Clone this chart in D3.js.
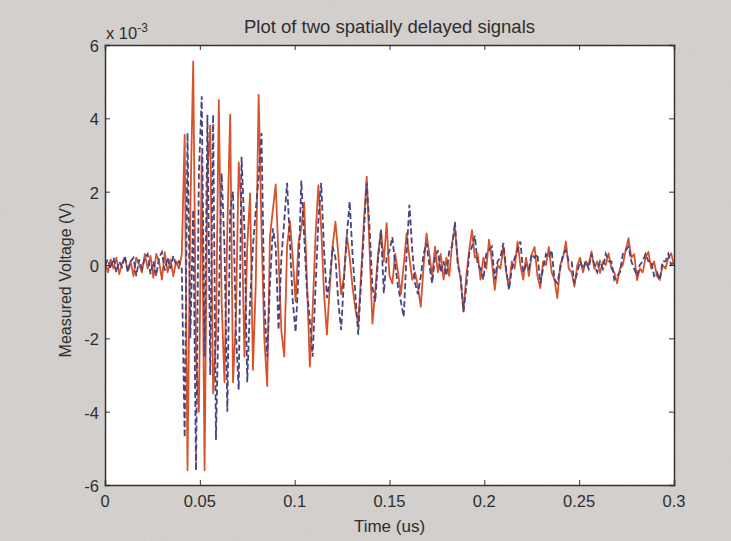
<!DOCTYPE html>
<html>
<head>
<meta charset="utf-8">
<script src="https://cdn.jsdelivr.net/npm/d3@7"></script>
<style>
  html, body { margin: 0; padding: 0; background: #d4d0cd; }
  svg { display: block; }
  text { font-family: "Liberation Sans", Arial, Helvetica, sans-serif; fill: #2e2e2e; }
</style>
</head>
<body>
<svg id="chart" width="731" height="541"></svg>
<script>
// Sampling interval of both recordings, in microseconds
const sampleStep = 0.0015;

// Measured voltage of the first receiver (×1e-3 V), solid trace
const signalA = [
  0.1, -0.2, 0.15, -0.1, 0.2, -0.25, 0.05, 0.2, -0.15, 0.1,
  -0.3, 0.2, 0.0, -0.2, 0.3, -0.1, 0.25, -0.35, 0.3, 0.1,
  -0.4, 0.35, -0.2, 0.15, -0.3, 0.1, -0.1, 0.3, 3.55, -5.6,
  1.5, 5.55, -2.5, -4.0, 3.0, -5.6, 2.5, 3.8, -3.5, -2.0,
  4.5, -1.0, -3.2, 1.0, 4.1, -3.2, -1.5, 2.8, 1.5, -2.5,
  0.5, 1.95, -2.86, -0.5, 4.64, 1.0, -2.0, -3.3, 0.8, 1.5,
  2.2, 0.2, -1.8, -2.5, 0.5, 1.2, 0.2, -1.0, 0.6, 1.0,
  1.7, -0.5, -2.77, -1.2, 0.8, 2.18, 1.0, -0.8, -1.9, -0.6,
  0.5, 1.18, 0.3, -0.8, -0.3, 0.8, 0.2, -0.6, -1.2, -1.6,
  -0.3, 1.2, 2.41, 0.4, -1.6, -0.7, 0.3, 0.95, 0.1, 1.14,
  -0.3, -0.5, 0.3, -0.2, -0.8, 0.0, 0.86, 0.2, -0.4, -0.2,
  -0.6, -1.14, 0.0, 0.86, 0.3, -0.3, 0.5, -0.2, 0.3, -0.4,
  0.2, -0.3, 0.6, 1.0, 0.1, -0.4, -1.27, -0.3, 0.4, 0.95,
  0.2, 0.3, -0.4, 0.2, -0.1, 0.69, 0.1, -0.68, 0.0, -0.1,
  0.5, -0.2, -0.6, 0.1, -0.1, 0.64, 0.0, -0.4, 0.2, -0.3,
  0.3, 0.49, -0.3, -0.63, 0.1, 0.0, 0.49, -0.2, -0.4, -0.9,
  0.0, 0.2, 0.64, -0.1, -0.2, -0.59, 0.0, 0.2, -0.2, 0.1,
  0.0, 0.37, -0.1, 0.1, -0.22, 0.1, 0.0, 0.32, -0.1, -0.2,
  -0.5, -0.1, 0.0, 0.4, 0.73, 0.2, 0.3, -0.41, -0.1, -0.2,
  0.2, 0.36, -0.1, 0.1, -0.3, -0.41, 0.0, -0.1, 0.2, 0.32,
  0.0
];

// Measured voltage of the second, spatially delayed receiver (×1e-3 V), dashed trace
const signalB = [
  0.0, 0.15, -0.1, 0.2, -0.2, 0.1, -0.05, 0.25, -0.2, 0.1,
  0.2, -0.3, 0.15, -0.1, 0.2, 0.3, -0.25, 0.1, -0.3, 0.2,
  0.35, -0.15, 0.2, -0.1, 0.25, 0.0, 0.1, -0.1, -4.7, 3.6,
  -2.0, 1.5, -5.6, 2.5, 4.6, -2.5, 4.1, -3.0, 4.1, -4.77,
  -1.0, 2.5, 0.5, -4.0, 1.5, 2.0, -1.8, -3.4, 2.95, 1.0,
  -3.2, -1.0, 0.5, 1.5, 2.4, 3.6, -1.0, -2.5, -0.5, 1.0,
  0.5, -1.77, 0.2, 1.2, 2.24, 0.6, -1.0, -1.83, -0.3, 2.3,
  0.8, -0.7, -1.5, -2.5, -0.6, 1.2, 2.24, 0.4, -0.9, -0.4,
  0.5, 0.2, -1.0, -1.77, -0.4, 0.8, 1.73, 0.3, -0.8, -1.9,
  -0.5, 0.9, 2.24, 1.0, -0.6, -1.0, 0.2, 0.95, -0.77, 0.2,
  0.4, 0.76, 0.0, -0.6, -1.0, -1.41, 0.3, 1.64, 0.4, -0.5,
  -0.8, -0.3, 0.3, 0.6, 0.0, -0.5, 0.2, 0.4, -0.2, 0.1,
  -0.3, 0.4, 0.5, 1.18, 0.0, -0.3, -1.27, -0.6, 0.3, 0.5,
  0.8, 0.0, -0.1, -0.4, 0.3, 0.4, 0.5, -0.4, 0.1, 0.2,
  0.6, -0.1, -0.68, -0.1, 0.2, 0.4, 0.64, -0.2, 0.0, -0.1,
  0.3, 0.2, 0.3, -0.5, -0.1, 0.3, 0.2, 0.4, -0.4, -0.5,
  -0.1, 0.3, 0.4, 0.1, 0.1, -0.5, -0.2, 0.1, -0.1, 0.1,
  -0.1, 0.3, 0.0, -0.2, 0.1, -0.1, 0.3, 0.1, 0.1, -0.4,
  -0.3, -0.2, 0.3, 0.4, 0.5, 0.1, -0.1, -0.3, 0.0, 0.1,
  0.3, 0.1, 0.1, -0.3, -0.2, -0.4, 0.1, 0.1, 0.3, 0.0,
  0.1
];

// Axis ticks and their labels
const xTicks = [0, 0.05, 0.1, 0.15, 0.2, 0.25, 0.3];
const xTickLabels = ["0", "0.05", "0.1", "0.15", "0.2", "0.25", "0.3"];
const yTicks = [-6, -4, -2, 0, 2, 4, 6];
const yTickLabels = ["-6", "-4", "-2", "0", "2", "4", "6"];

const titleText = "Plot of two spatially delayed signals";
const xLabelText = "Time (us)";
const yLabelText = "Measured Voltage (V)";

// ---- layout ----
const W = 731, H = 541;
const plot = { left: 105, right: 674, top: 45, bottom: 485 };
const tickLen = 5;

const svg = d3.select("#chart");
const defs = svg.append("defs");

// fine grain for the figure background
const grain = defs.append("filter").attr("id", "grain")
  .attr("x", 0).attr("y", 0).attr("width", "100%").attr("height", "100%");
grain.append("feTurbulence")
  .attr("type", "fractalNoise").attr("baseFrequency", 0.9)
  .attr("numOctaves", 2).attr("seed", 3).attr("result", "noise");
grain.append("feColorMatrix").attr("in", "noise").attr("type", "matrix")
  .attr("values", "0 0 0 0 0.5  0 0 0 0 0.5  0 0 0 0 0.5  0.6 0.6 0.6 0 -0.85");

svg.append("rect").attr("width", W).attr("height", H).attr("fill", "#d4d0cd");
svg.append("rect").attr("width", W).attr("height", H).attr("filter", "url(#grain)").attr("opacity", 0.6);

const x = d3.scaleLinear().domain([0, 0.3]).range([plot.left, plot.right]);
const y = d3.scaleLinear().domain([-6, 6]).range([plot.bottom, plot.top]);

// white axes area
svg.append("rect")
  .attr("x", plot.left).attr("y", plot.top)
  .attr("width", plot.right - plot.left).attr("height", plot.bottom - plot.top)
  .attr("fill", "#ffffff");

defs.append("clipPath").attr("id", "plotclip")
  .append("rect")
  .attr("x", plot.left).attr("y", plot.top)
  .attr("width", plot.right - plot.left).attr("height", plot.bottom - plot.top);

const line = d3.line()
  .x((d, i) => x(i * sampleStep))
  .y(d => y(d));

const traces = svg.append("g").attr("clip-path", "url(#plotclip)");

traces.append("path")
  .datum(signalA)
  .attr("d", line)
  .attr("fill", "none")
  .attr("stroke", "#d8532c")
  .attr("stroke-width", 1.8)
  .attr("stroke-linejoin", "round");

traces.append("path")
  .datum(signalB)
  .attr("d", line)
  .attr("fill", "none")
  .attr("stroke", "#46457f")
  .attr("stroke-width", 1.8)
  .attr("stroke-dasharray", "6,3");

// ---- axes with inward ticks on all four sides ----
const axisColor = "#333333";

const bottomAxis = d3.axisBottom(x).tickValues(xTicks).tickSize(-tickLen).tickFormat("");
const topAxis = d3.axisTop(x).tickValues(xTicks).tickSize(-tickLen).tickFormat("");
const leftAxis = d3.axisLeft(y).tickValues(yTicks).tickSize(-tickLen).tickFormat("");
const rightAxis = d3.axisRight(y).tickValues(yTicks).tickSize(-tickLen).tickFormat("");

function styleAxis(g) {
  g.selectAll("path.domain").attr("stroke", axisColor).attr("stroke-width", 1.5);
  g.selectAll(".tick line").attr("stroke", axisColor).attr("stroke-width", 1);
}

svg.append("g").attr("transform", `translate(0,${plot.bottom})`).call(bottomAxis).call(styleAxis);
svg.append("g").attr("transform", `translate(0,${plot.top})`).call(topAxis).call(styleAxis);
svg.append("g").attr("transform", `translate(${plot.left},0)`).call(leftAxis).call(styleAxis);
svg.append("g").attr("transform", `translate(${plot.right},0)`).call(rightAxis).call(styleAxis);

// tick labels
svg.append("g").selectAll("text")
  .data(xTicks)
  .join("text")
  .attr("x", d => x(d))
  .attr("y", 507)
  .attr("text-anchor", "middle")
  .attr("font-size", 16.5)
  .text((d, i) => xTickLabels[i]);

svg.append("g").selectAll("text")
  .data(yTicks)
  .join("text")
  .attr("x", 99)
  .attr("y", d => y(d) + 7)
  .attr("text-anchor", "end")
  .attr("font-size", 16.5)
  .text((d, i) => yTickLabels[i]);

// exponent marker
const expo = svg.append("text")
  .attr("x", 106).attr("y", 39)
  .attr("font-size", 16.5);
expo.append("tspan").text("x 10");
expo.append("tspan").attr("dy", -7).attr("font-size", 12).text("-3");

// title and axis labels
svg.append("text")
  .attr("x", (plot.left + plot.right) / 2).attr("y", 33)
  .attr("text-anchor", "middle")
  .attr("font-size", 18.5)
  .text(titleText);

svg.append("text")
  .attr("x", (plot.left + plot.right) / 2).attr("y", 532)
  .attr("text-anchor", "middle")
  .attr("font-size", 17)
  .text(xLabelText);

svg.append("text")
  .attr("transform", `translate(71,280) rotate(-90)`)
  .attr("text-anchor", "middle")
  .attr("font-size", 16)
  .text(yLabelText);
</script>
</body>
</html>
